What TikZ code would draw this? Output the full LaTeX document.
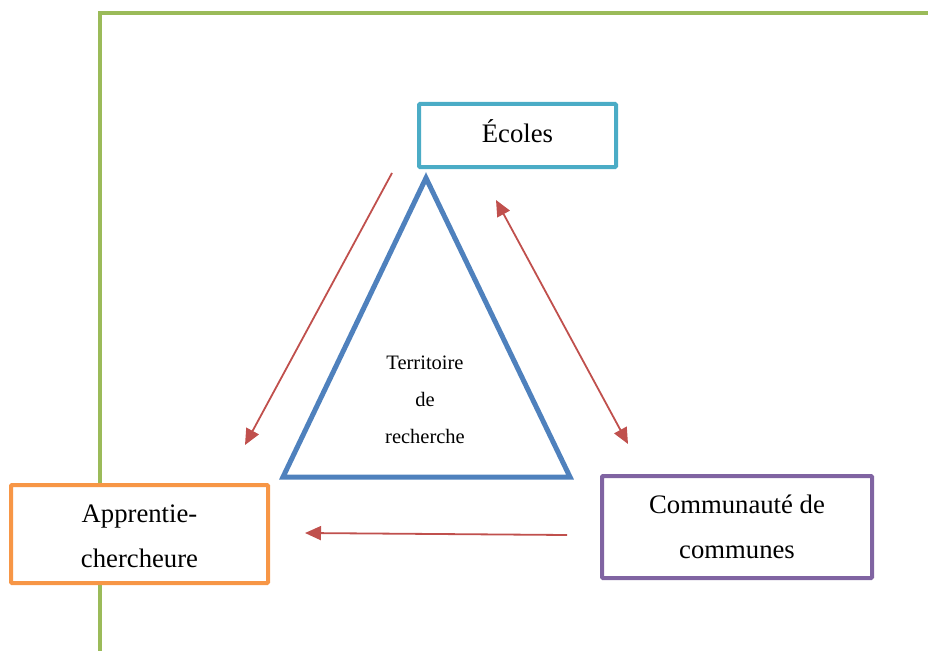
\documentclass[tikz,border=0pt]{standalone}
\usepackage{fontspec}
\setmainfont{Liberation Serif}
\usetikzlibrary{arrows.meta}
\definecolor{cgreen}{HTML}{9BBB59}
\definecolor{cteal}{HTML}{4BACC6}
\definecolor{corange}{HTML}{F79646}
\definecolor{cpurple}{HTML}{8064A2}
\definecolor{cblue}{HTML}{4F81BD}
\definecolor{cred}{HTML}{C0504D}
\begin{document}
\begin{tikzpicture}[x=1pt,y=-1pt,
  box/.style={draw, fill=white, line width=4pt, rounded corners=1pt, inner sep=0pt, align=center,
    font=\fontsize{26.7}{45}\selectfont},
  link/.style={draw=cred, line width=1.8pt, -{Triangle[length=16pt,width=14pt]}},
  dlink/.style={draw=cred, line width=1.8pt, {Triangle[length=16pt,width=14pt]}-{Triangle[length=16pt,width=14pt]}}]
\useasboundingbox (0,0) rectangle (928,650);
% frame
\draw[cgreen, line width=4pt] (100,652) -- (100,13) -- (930,13);
% boxes
\node[box, draw=cteal, minimum width=197pt, minimum height=63pt] (ecoles) at (517.5,135.5) {\raisebox{4pt}[\height][\depth]{Écoles}};
\node[box, draw=corange, minimum width=257pt, minimum height=98pt] (app) at (139.5,534) {\raisebox{-2pt}[\height][\depth]{\begin{tabular}{@{}c@{}}Apprentie-\\chercheure\end{tabular}}};
\node[box, draw=cpurple, minimum width=270pt, minimum height=102pt] (comm) at (737,527) {Communauté de\\communes};
% triangle
\coordinate (tA) at (426,178);
\coordinate (tB) at (283,477);
\coordinate (tC) at (570,477);
\draw[cblue, line width=5pt, line join=miter] (tA) -- (tB) -- (tC) -- cycle;
\node[align=center, font=\fontsize{20.5}{37}\selectfont] (terr) at (425,400) {Territoire\\de\\recherche};
% arrows
\coordinate (a1s) at (392,173);
\coordinate (a1e) at (245,445);
\coordinate (a2s) at (496,200);
\coordinate (a2e) at (628,444);
\coordinate (a3s) at (567,535);
\coordinate (a3e) at (305,533);
\draw[link] (a1s) -- (a1e);
\draw[dlink] (a2s) -- (a2e);
\draw[link] (a3s) -- (a3e);
\end{tikzpicture}
\end{document}
